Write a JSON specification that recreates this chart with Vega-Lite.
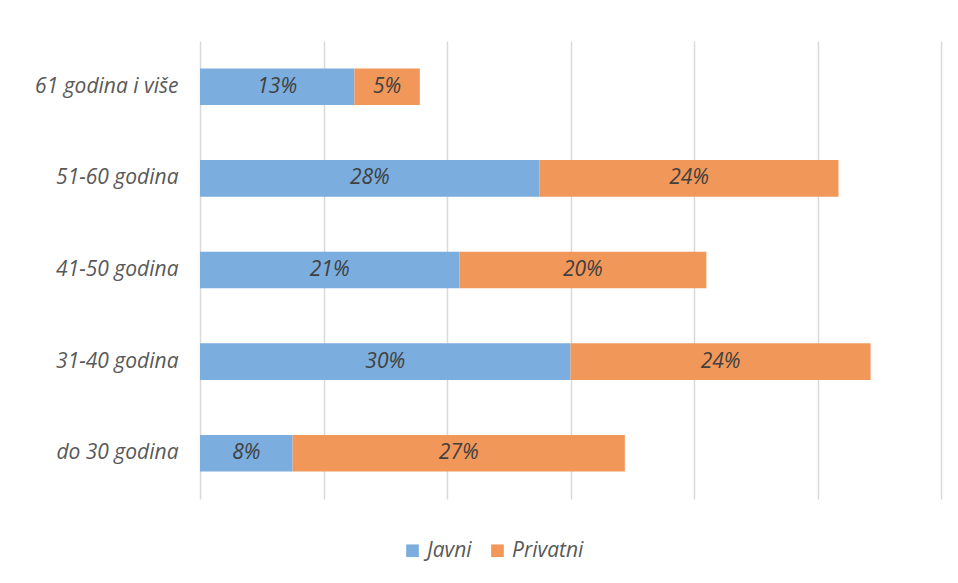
{
  "$schema": "https://vega.github.io/schema/vega-lite/v6.json",
  "width": 741,
  "height": 458,
  "autosize": {"type": "none"},
  "padding": {"left": 200, "top": 41, "right": 17, "bottom": 84},
  "background": "white",
  "config": {
    "view": {"stroke": null},
    "font": "Open Sans"
  },
  "data": {
    "values": [
      {"group": "61 godina i više", "sector": "Javni", "value": 12.5, "label": "13%", "order": 1},
      {"group": "61 godina i više", "sector": "Privatni", "value": 5.3, "label": "5%", "order": 2},
      {"group": "51-60 godina", "sector": "Javni", "value": 27.5, "label": "28%", "order": 1},
      {"group": "51-60 godina", "sector": "Privatni", "value": 24.2, "label": "24%", "order": 2},
      {"group": "41-50 godina", "sector": "Javni", "value": 21.0, "label": "21%", "order": 1},
      {"group": "41-50 godina", "sector": "Privatni", "value": 20.0, "label": "20%", "order": 2},
      {"group": "31-40 godina", "sector": "Javni", "value": 30.0, "label": "30%", "order": 1},
      {"group": "31-40 godina", "sector": "Privatni", "value": 24.3, "label": "24%", "order": 2},
      {"group": "do 30 godina", "sector": "Javni", "value": 7.5, "label": "8%", "order": 1},
      {"group": "do 30 godina", "sector": "Privatni", "value": 26.9, "label": "27%", "order": 2}
    ]
  },
  "encoding": {
    "y": {
      "field": "group",
      "type": "nominal",
      "sort": ["61 godina i više", "51-60 godina", "41-50 godina", "31-40 godina", "do 30 godina"],
      "scale": {"paddingInner": 0.6, "paddingOuter": 0.3},
      "axis": {
        "title": null,
        "domain": false,
        "ticks": false,
        "labelPadding": 22,
        "labelFontSize": 21,
        "labelFontStyle": "italic",
        "labelColor": "#595959",
        "labelFont": "Open Sans"
      }
    },
    "x": {
      "field": "value",
      "type": "quantitative",
      "stack": "zero",
      "scale": {"domain": [0, 60], "nice": false},
      "axis": {
        "title": null,
        "labels": false,
        "ticks": false,
        "domain": false,
        "grid": true,
        "gridColor": "#d9d9d9",
        "gridWidth": 1.5,
        "values": [0, 10, 20, 30, 40, 50, 60]
      }
    },
    "order": {"field": "order", "type": "quantitative"}
  },
  "layer": [
    {
      "mark": {"type": "bar"},
      "encoding": {
        "color": {
          "field": "sector",
          "type": "nominal",
          "scale": {"domain": ["Javni", "Privatni"], "range": ["#7BADDE", "#F1975A"]},
          "legend": {
            "title": null,
            "orient": "none",
            "direction": "horizontal",
            "legendX": 202,
            "legendY": 499,
            "symbolType": "square",
            "symbolSize": 160,
            "symbolStrokeWidth": 0,
            "labelFontSize": 21,
            "labelFontStyle": "italic",
            "labelColor": "#595959",
            "labelFont": "Open Sans",
            "columnPadding": 15,
            "labelOffset": 4
          }
        }
      }
    },
    {
      "mark": {
        "type": "text",
        "fontSize": 21,
        "fontStyle": "italic",
        "color": "#404040",
        "font": "Open Sans"
      },
      "encoding": {
        "x": {"field": "value", "type": "quantitative", "stack": "zero", "bandPosition": 0.5},
        "text": {"field": "label"}
      }
    }
  ]
}
